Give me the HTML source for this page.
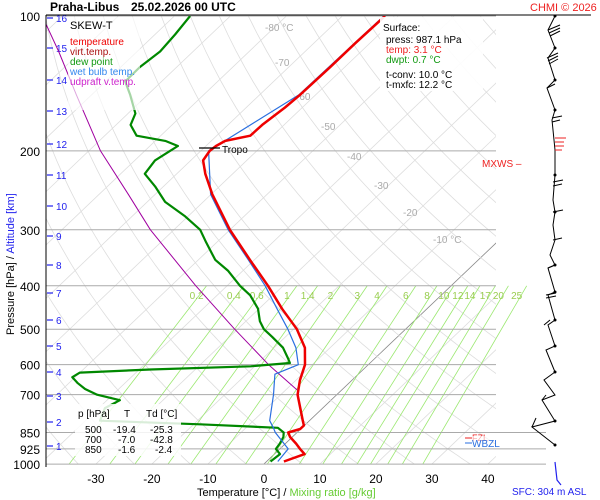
<!DOCTYPE html>
<html><head><meta charset="utf-8"><style>
body{margin:0;background:#fff}
svg{display:block;font-family:"Liberation Sans",sans-serif}
</style></head><body>
<svg id="c" width="600" height="500" viewBox="0 0 600 500">
<rect x="0" y="0" width="600" height="500" fill="#fff"/>
<g id="bg"></g>
<g id="series"></g>
<g id="fg"></g>
</svg>
<script>
const tempP = [987,950,925,900,870,850,835,820,800,700,650,600,550,500,450,400,350,300,250,225,210,200,195,190,185,175,160,150,130,115,100];
const tempT = [3.1,5.4,3.6,1.9,-0.4,-1.6,-0.1,-0.1,-1.2,-7.0,-9.3,-11.3,-14.5,-19.4,-25.9,-32.7,-40.8,-50,-59.8,-64.9,-67.8,-68.4,-68.2,-67.5,-64,-63.9,-63.1,-62.8,-62.6,-62.6,-62.4];
const dewP = [987,950,925,900,870,850,830,815,800,750,720,700,680,660,640,625,615,605,595,580,550,520,500,480,450,420,400,370,350,320,300,280,260,240,225,210,200,195,190,185,175,165,150,140,130,120,110,100];
const dewT = [0.7,1.0,-0.7,-1,-1.6,-2.4,-4.3,-18.9,-37.4,-38.9,-37.7,-42.8,-46,-48.4,-50.5,-50,-38,-20.7,-14.3,-15.6,-18.4,-22.4,-25.3,-27.5,-30.2,-34.1,-37.7,-42.7,-47,-51.9,-55.3,-60.5,-66.8,-71.5,-75.7,-76.4,-75.5,-75,-78.2,-84.3,-87.4,-88.7,-93.1,-96.5,-96.6,-95.9,-96.4,-97.2];
const wbP = [987,925,850,830,800,700,630,600,550,500,450,400,350,300,250,200,150,100];
const wbT = [2,1.5,-3.9,-5.1,-7.1,-11.3,-14.9,-12.5,-16.1,-21,-26.8,-33.2,-41.1,-50.3,-60.1,-68.6,-63.0,-62.6];
const parP = [683,600,500,400,300,250,200,150,120,100];
const parT = [-8,-17.8,-30.5,-45.6,-64.2,-74.8,-87.9,-102.7,-114,-123.6];
const pLevels = [100,200,300,400,500,600,700,850,925,1000];
const tTicks = [-30,-20,-10,0,10,20,30,40];
const mixW = [0.2,0.4,0.6,1,1.4,2,3,4,6,8,10,12,14,17,20,25];
const kmTicks = [1,2,3,4,5,6,7,8,9,10,11,12,13,14,15,16];
const kmY = [446,422,396,372,346,320,293,265,236,206,175,144,111,80,48,18];

const NS="http://www.w3.org/2000/svg";
const L=46,R=496,TOP=16,BOT=464,K=194.6;
function yP(p){return TOP+K*Math.log(p/100);}
function xT(t,p){return 264+5.6*t+1.05*(BOT-yP(p));}
function mk(tag,attrs,parent){const e=document.createElementNS(NS,tag);for(const k in attrs)e.setAttribute(k,attrs[k]);parent.appendChild(e);return e;}
const bg=document.getElementById('bg'),sg=document.getElementById('series'),fg=document.getElementById('fg');
const clip=mk('clipPath',{id:'pc'},bg);mk('rect',{x:L,y:TOP,width:R-L,height:BOT-TOP},clip);
const clip2=mk('clipPath',{id:'pc2'},bg);mk('rect',{x:L,y:TOP,width:500,height:BOT-TOP},clip2);
const gridG=mk('g',{'clip-path':'url(#pc)'},bg);
for(let t=-160;t<=50;t+=10){
  const e=mk('line',{x1:xT(t,1000),y1:yP(1000),x2:xT(t,100),y2:yP(100),stroke:t===0?'#888':'#ddd','stroke-width':0.8},gridG);
  
  
}
for(let th=230;th<=520;th+=10){
  let d='';
  for(let p=1000;p>=100;p-=10){const t=th*Math.pow(p/1000,0.286)-273.15;d+=(p===1000?'M':'L')+xT(t,p).toFixed(1)+','+yP(p).toFixed(1);}
  const e=mk('path',{d:d,fill:'none',stroke:'#ddd','stroke-width':0.8},gridG);
  
  
}
function tdW(w,p){const e=w*p/(622+w);const a=Math.log(e/6.112);return 243.5*a/(17.67-a);}
const mixG=mk('g',{'clip-path':'url(#pc2)'},bg);
mixW.forEach(w=>{
  const e=mk('line',{x1:xT(tdW(w,1000),1000),y1:yP(1000),x2:xT(tdW(w,400),400),y2:yP(400),stroke:'#9be870','stroke-width':0.8},mixG);
  
  
  const lb=mk('text',{x:xT(tdW(w,400),400)-10,y:299,'font-size':10,fill:'#9acd50','text-anchor':'middle'},bg);
  lb.textContent=String(w);
  
  
});
pLevels.forEach(p=>{
  const y=yP(p);
  const e=mk('line',{x1:L,y1:y,x2:p>=850?546:R,y2:y,stroke:'#aaa','stroke-width':1},bg);
  
  
  const lb=mk('text',{x:40,y:y+5,'font-size':12,fill:'#000','text-anchor':'end'},bg);
  lb.textContent=String(p);
  
  
});
tTicks.forEach(t=>{
  const lb=mk('text',{x:xT(t,1000),y:483,'font-size':12,fill:'#000','text-anchor':'middle'},bg);
  lb.textContent=String(t);
  
  
});
kmTicks.forEach((k,i)=>{
  mk('line',{x1:47,y1:kmY[i],x2:53,y2:kmY[i],stroke:'#2222ee','stroke-width':1.2},bg);
  const lb=mk('text',{x:56,y:kmY[i]+4,'font-size':10,fill:'#2222ee'},bg);
  lb.textContent=String(k);
  
  
});
[[-80,'-80 °C',265,31],[-70,'-70',275,66],[-60,'-60',296,100],[-50,'-50',321,130],[-40,'-40',347,160],[-30,'-30',374,189],[-20,'-20',403,216],[-10,'-10 °C',433,243]].forEach(a=>{
  const lb=mk('text',{x:a[2],y:a[3],'font-size':10,fill:'#aaa'},bg);lb.textContent=a[1];
  
  
});
function line(P,T,color,w,name){
  let d='';P.forEach((p,i)=>{d+=(i?'L':'M')+xT(T[i],p).toFixed(1)+','+yP(p).toFixed(1);});
  const e=mk('path',{d:d,fill:'none',stroke:color,'stroke-width':w,'stroke-linejoin':'round','clip-path':'url(#pc)'},sg);
  
  
}
line(parP,parT,'#a000a0',1,'updraft-virtual-temp-line');
line(dewP,dewT,'#008800',2.2,'dew-point-line');
line(wbP,wbT,'#2a6fe0',1.2,'wet-bulb-line');
line(tempP,tempT,'#ee0000',2.5,'temperature-line');
</script>
<svg style="position:absolute;left:0;top:0" width="600" height="500">
<g font-family="Liberation Sans, sans-serif">
<line x1="46" y1="15" x2="591" y2="15" stroke="#000" stroke-width="1"/>
<line x1="46" y1="15" x2="46" y2="467" stroke="#000" stroke-width="1"/>
<text x="50" y="11" font-size="12" font-weight="bold">Praha-Libus</text>
<text x="131" y="11" font-size="12" font-weight="bold">25.02.2026 00 UTC</text>
<text x="530" y="11" font-size="11" fill="#ee2222">CHMI © 2026</text>
<rect x="68" y="17" width="72" height="93" fill="#fff" opacity="0.65"/>
<text x="70" y="29" font-size="11">SKEW-T</text>
<text x="70" y="45" font-size="10" fill="#ee0000">temperature</text>
<text x="70" y="55" font-size="10" fill="#aa1111">virt.temp.</text>
<text x="70" y="65" font-size="10" fill="#119911">dew point</text>
<text x="70" y="75" font-size="10" fill="#3388ee">wet bulb temp.</text>
<text x="70" y="85" font-size="10" fill="#cc22cc">udpraft v.temp.</text>
<rect x="380" y="17" width="103" height="74" fill="#fff" opacity="0.9"/>
<text x="383" y="31" font-size="10">Surface:</text>
<text x="386" y="43" font-size="10">press: 987.1 hPa</text>
<text x="386" y="53" font-size="10" fill="#ee2222">temp: 3.1 °C</text>
<text x="386" y="63" font-size="10" fill="#119911">dwpt: 0.7 °C</text>
<text x="386" y="78" font-size="10">t-conv: 10.0 °C</text>
<text x="386" y="88" font-size="10">t-mxfc: 12.2 °C</text>
<line x1="199" y1="148" x2="220" y2="148" stroke="#000" stroke-width="1.2"/>
<text x="222" y="153" font-size="10">Tropo</text>
<text x="482" y="167" font-size="10" fill="#ee2222">MXWS –</text>
<rect x="75" y="404" width="106" height="52" fill="#fff" opacity="0.85"/>
<g font-size="10">
<text x="78" y="417">p [hPa]</text><text x="124" y="417">T</text><text x="146" y="417">Td [°C]</text>
<text x="85" y="433">500</text><text x="113" y="433">-19.4</text><text x="150" y="433">-25.3</text>
<text x="85" y="443">700</text><text x="118" y="443">-7.0</text><text x="150" y="443">-42.8</text>
<text x="85" y="453">850</text><text x="118" y="453">-1.6</text><text x="155" y="453">-2.4</text>
</g>
<line x1="465" y1="438" x2="472" y2="438" stroke="#ee2222"/><text x="472" y="441" font-size="9" fill="#ee2222">FZL</text>
<rect x="472" y="436" width="36" height="6" fill="#fff" opacity="0.6"/>
<line x1="465" y1="443" x2="472" y2="443" stroke="#2a6fe0"/><text x="472" y="447" font-size="10" fill="#2a6fe0">WBZL</text>
<polyline fill="none" stroke="#000" stroke-width="1" points="555,16 548,30 555,48 548,58 555,80 547,88 555,110 552,120 555,150 555,175 553,200 555,212 553,225 555,240 550,255 555,265 548,268 555,292 548,295 555,320 548,325 555,346 546,350 555,372 544,380 555,395 542,400 555,421 532,427 555,445"/>
<g stroke="#000" stroke-width="1">
<line x1="548" y1="30" x2="560" y2="25"/><line x1="549" y1="33" x2="560" y2="28"/><line x1="550" y1="36" x2="560" y2="31"/>
<line x1="547" y1="58" x2="558" y2="53"/><line x1="548" y1="61" x2="558" y2="56"/><line x1="549" y1="64" x2="558" y2="59"/>
<line x1="547" y1="88" x2="555" y2="84"/>
<line x1="552" y1="118" x2="562" y2="116"/><line x1="552" y1="122" x2="560" y2="120"/>
<line x1="553" y1="182" x2="563" y2="180"/><line x1="553" y1="186" x2="562" y2="184"/>
<line x1="553" y1="212" x2="563" y2="210"/><line x1="553" y1="240" x2="562" y2="238"/>
<line x1="548" y1="268" x2="555" y2="265"/><line x1="546" y1="295" x2="556" y2="293"/><line x1="546" y1="298" x2="556" y2="296"/>
<line x1="544" y1="325" x2="550" y2="320"/><line x1="542" y1="400" x2="546" y2="395"/><line x1="532" y1="427" x2="536" y2="418"/>
</g>
<g fill="#000"><circle cx="555" cy="16" r="1.5"/><circle cx="555" cy="48" r="1.5"/><circle cx="555" cy="80" r="1.5"/><circle cx="555" cy="110" r="1.5"/><circle cx="555" cy="175" r="1.5"/><circle cx="555" cy="212" r="1.5"/><circle cx="555" cy="265" r="1.5"/><circle cx="555" cy="292" r="1.5"/><circle cx="555" cy="320" r="1.5"/><circle cx="555" cy="346" r="1.5"/><circle cx="555" cy="372" r="1.5"/><circle cx="555" cy="421" r="1.5"/><circle cx="555" cy="445" r="1.5"/></g>
<g stroke="#ee2222" stroke-width="1"><line x1="555" y1="138" x2="566" y2="138"/><line x1="555" y1="142" x2="564" y2="142"/><line x1="555" y1="146" x2="564" y2="146"/><line x1="555" y1="150" x2="562" y2="150"/></g>
<polyline points="555,462 557,480 561,485" fill="none" stroke="#2222ee" stroke-width="1.2"/>
<text x="512" y="495" font-size="10" fill="#2222ee">SFC: 304 m ASL</text>
<text x="197" y="496" font-size="11">Temperature [°C]  /  <tspan fill="#66cc33">Mixing ratio [g/kg]</tspan></text>
<text transform="translate(14,335) rotate(-90)" font-size="11">Pressure [hPa]  /  <tspan fill="#2222ee">Altitude [km]</tspan></text>
</g>
</svg>
</body></html>
